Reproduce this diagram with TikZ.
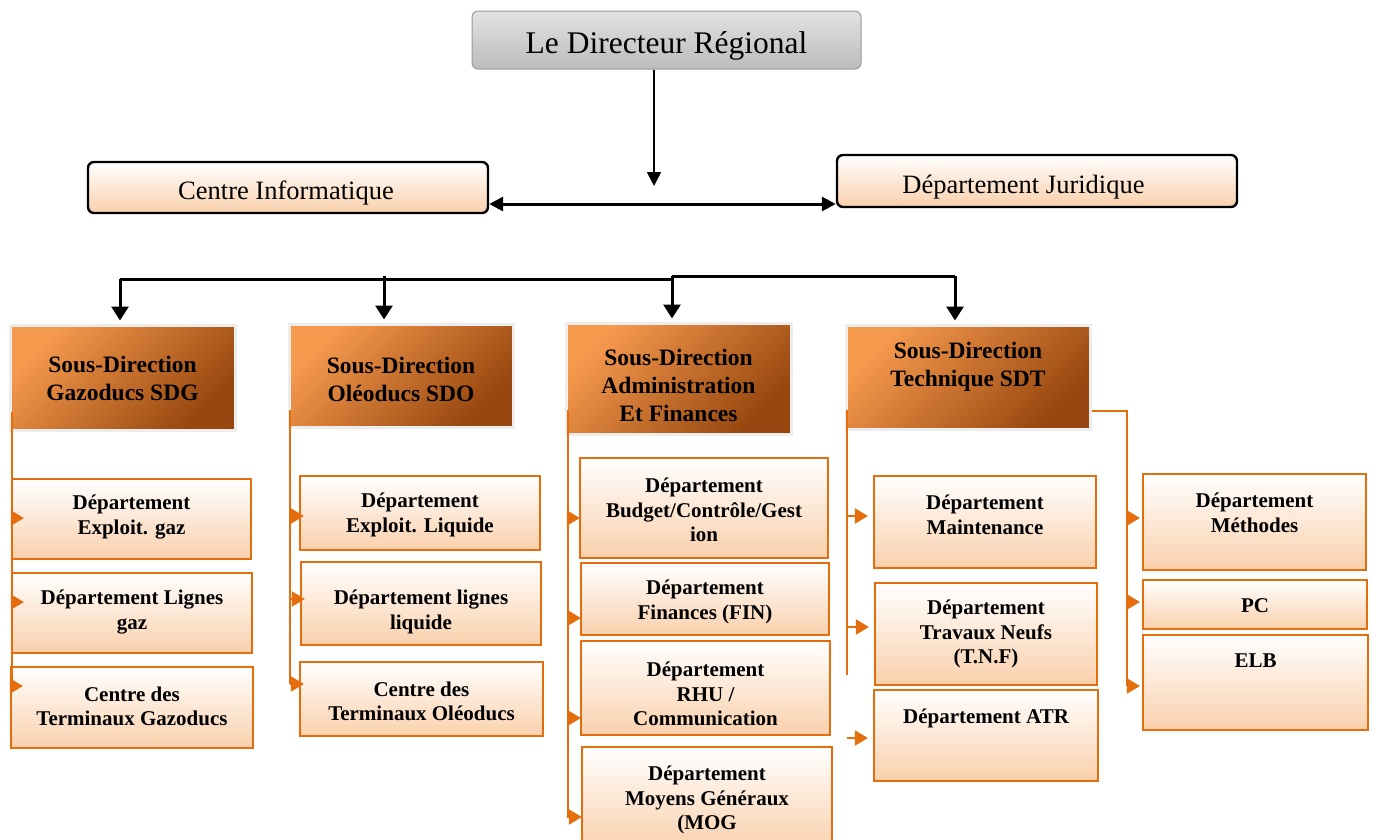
\documentclass[tikz,border=0pt]{standalone}
\usepackage{fontspec}
\setmainfont{Liberation Serif}
\usetikzlibrary{arrows.meta,calc}

\definecolor{orangeline}{RGB}{228,110,14}
\definecolor{peach}{RGB}{250,208,172}
\definecolor{sdlight}{RGB}{246,154,78}
\definecolor{sddark}{RGB}{150,70,14}
\definecolor{dirtop}{RGB}{226,226,226}
\definecolor{dirbot}{RGB}{188,188,188}

\tikzset{
  dirbox/.style={draw=black!40, line width=1pt, rounded corners=6pt,
    top color=dirtop, bottom color=dirbot, inner sep=0},
  topbox/.style={draw=black, line width=2.4pt, rounded corners=6pt,
    top color=white, bottom color=peach, inner sep=0},
  sdbox/.style={draw=black!7, line width=3pt, inner sep=0,
    top color=sdlight, bottom color=sddark, shading angle=45},
  dept/.style={draw=orangeline, line width=2.2pt, inner sep=0,
    top color=white, bottom color=peach},
  dtext/.style={font=\fontsize{21}{24.5}\selectfont\bfseries, align=center, inner sep=0, yshift=-2pt},
  sdtext/.style={font=\fontsize{23.5}{28}\selectfont\bfseries, align=center, inner sep=0},
  darr/.style={line width=1.8pt, -{Triangle[length=14pt,width=14pt]}},
  busline/.style={line width=3pt},
  barr/.style={line width=3pt, -{Triangle[length=14pt,width=17pt]}, shorten >=3pt},
  dblarr/.style={line width=3pt, {Triangle[length=14pt,width=14pt]}-{Triangle[length=14pt,width=14pt]}},
  oline/.style={draw=orangeline, line width=1.8pt},
  oarr/.style={draw=orangeline, fill=orangeline, line width=2pt,
    -{Triangle[length=13pt,width=15pt]}},
}

% branch arrow from a trunk to a box: trunk coordinate, box, y, tip offset
\newcommand\obranch[4]{\draw[oarr] (#1 |- 0,#3) -- ($(#2.west |- 0,#3)+(#4,0)$);}

\begin{document}
\begin{tikzpicture}[x=1pt,y=-1pt]
\useasboundingbox (0,0) rectangle (1373,839);

% --- direction ---
\node[dirbox, minimum width=389, minimum height=58] (dir) at (666.5,40) {};
\node[font=\fontsize{31.5}{36}\selectfont, inner sep=0] (dir-t) at (666.5,46) {Le Directeur Régional};

\node[topbox, minimum width=400, minimum height=51] (ci) at (288,187.5) {};
\node[font=\fontsize{26.5}{30}\selectfont, inner sep=0] (ci-t) at (286,193) {Centre Informatique};
\node[topbox, minimum width=400, minimum height=52] (dj) at (1037,181) {};
\node[font=\fontsize{26.5}{30}\selectfont, inner sep=0] (dj-t) at (1023.5,187) {Département Juridique};

\coordinate (hub) at (654,186);
\draw[darr] (dir.south -| hub) -- (hub);
\coordinate (hy) at (0,204);
\draw[dblarr] (ci.east |- hy) -- (dj.west |- hy);

% --- sous-directions ---
\node[sdbox, minimum width=225, minimum height=105] (sg) at (122.5,377.5) {};
\node[sdtext] (sg-t) at (122.5,378) {Sous-Direction\\Gazoducs SDG};
\node[sdbox, minimum width=224, minimum height=103] (so) at (401,375.5) {};
\node[sdtext] (so-t) at (401,379.5) {Sous-Direction\\Oléoducs SDO};
\node[sdbox, minimum width=225, minimum height=111] (sa) at (678.5,378.5) {};
\node[sdtext] (sa-t) at (678.5,385) {Sous-Direction\\Administration\\Et Finances};
\node[sdbox, minimum width=244, minimum height=104] (st) at (968,377) {};
\node[sdtext] (st-t) at (968,367) {Sous-Direction\\Technique SDT};

% --- distribution bus ---
\coordinate (b1) at (120,279);
\coordinate (bm) at (672,279);
\coordinate (bm2) at (672,276);
\coordinate (b2) at (384,276);
\coordinate (b4) at (955,276);
\draw[busline] (b1) -- (bm);
\draw[busline] (bm2) -- (b4);
\draw[barr] (b1) -- (b1 |- sg.north);
\draw[barr] (b2) -- (b2 |- so.north);
\draw[barr] (bm2) -- (bm2 |- sa.north);
\draw[barr] (b4) -- (b4 |- st.north);

% --- départements SDG ---
\node[dept, minimum width=239, minimum height=80] (ga) at (131.5,519) {};
\node[dtext] (ga-t) at (131.5,515) {Département\\Exploit. gaz};
\node[dept, minimum width=240, minimum height=80] (gb) at (132,613) {};
\node[dtext] (gb-t) at (132,610) {Département Lignes\\gaz};
\node[dept, minimum width=242, minimum height=81] (gc) at (132,707.5) {};
\node[dtext] (gc-t) at (132,704.5) {Centre des\\Terminaux Gazoducs};

% --- départements SDO ---
\node[dept, minimum width=240, minimum height=74] (oa) at (420,513) {};
\node[dtext] (oa-t) at (420,513) {Département\\Exploit. Liquide};
\node[dept, minimum width=240, minimum height=83] (ob) at (421,603.5) {};
\node[dtext] (ob-t) at (421,610) {Département lignes\\liquide};
\node[dept, minimum width=243, minimum height=74] (oc) at (421.5,699) {};
\node[dtext] (oc-t) at (421.5,699.5) {Centre des\\Terminaux Oléoducs};

% --- départements SDAF ---
\node[dept, minimum width=248, minimum height=100] (aa) at (704,508) {};
\node[dtext] (aa-t) at (704,508) {Département\\Budget/Contrôle/Gest\\ion};
\node[dept, minimum width=248, minimum height=72] (ab) at (705,599) {};
\node[dtext] (ab-t) at (705,600) {Département\\Finances (FIN)};
\node[dept, minimum width=249, minimum height=94] (ac) at (705.5,688) {};
\node[dtext] (ac-t) at (705.5,692) {Département\\RHU /\\Communication};
\node[dept, minimum width=250, minimum height=103] (ad) at (707,798.5) {};
\node[dtext] (ad-t) at (707,798) {Département\\Moyens Généraux\\(MOG};

% --- départements SDT ---
\node[dept, minimum width=222, minimum height=92] (ta) at (985,522) {};
\node[dtext] (ta-t) at (985,513) {Département\\Maintenance};
\node[dept, minimum width=222, minimum height=102] (tb) at (986,634) {};
\node[dtext] (tb-t) at (986,632) {Département\\Travaux Neufs\\(T.N.F)};
\node[dept, minimum width=224, minimum height=91] (tc) at (986,735.5) {};
\node[dtext] (tc-t) at (986,716) {Département ATR};

\node[dept, minimum width=223, minimum height=96] (ra) at (1254.5,522) {};
\node[dtext] (ra-t) at (1254.5,511) {Département\\Méthodes};
\node[dept, minimum width=224, minimum height=49] (rb) at (1255,604.5) {};
\node[dtext] (rb-t) at (1255,604) {PC};
\node[dept, minimum width=225, minimum height=95] (rc) at (1255.5,682.5) {};
\node[dtext] (rc-t) at (1255.5,659) {ELB};

% --- orange trunks and branches ---
\coordinate (gT) at (12,412);
\draw[oline] (gT) -- (gT |- 0,686);
\obranch{gT}{ga}{518}{13}
\obranch{gT}{gb}{602}{13}
\obranch{gT}{gc}{686}{13}

\coordinate (oT) at (290,410);
\draw[oline] (oT) -- (oT |- 0,684);
\obranch{oT}{oa}{516}{5}
\obranch{oT}{ob}{599}{5}
\obranch{oT}{oc}{684}{5}

\coordinate (aT) at (568,410);
\draw[oline] (aT) -- (aT |- 0,818);
\obranch{aT}{aa}{518}{1}
\obranch{aT}{ab}{618}{1}
\obranch{aT}{ac}{718}{1}
\obranch{aT}{ad}{817}{1}

\coordinate (tT) at (847,410);
\draw[oline] (tT) -- (tT |- 0,675);
\obranch{tT}{ta}{516}{-5}
\obranch{tT}{tb}{627}{-5}
\obranch{tT}{tc}{738}{-5}

\coordinate (rT) at (1127,411);
\draw[oline] (st.east |- rT) -- (rT) -- (rT |- 0,686);
\obranch{rT}{ra}{518}{-2}
\obranch{rT}{rb}{602}{-2}
\obranch{rT}{rc}{686}{-2}
\end{tikzpicture}
\end{document}
